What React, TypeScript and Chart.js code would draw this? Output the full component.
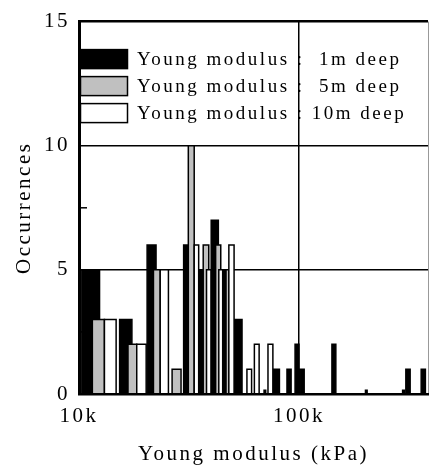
import React, { useEffect, useRef } from 'react';
import { Chart, registerables } from 'chart.js';

Chart.register(...registerables);

// ---- data (Young modulus bins in kPa x 1000, occurrence counts) ----
const seriesLabels = [
  'Young modulus :  1m deep',
  'Young modulus :  5m deep',
  'Young modulus : 10m deep',
];

// 1 m deep (black)
const blackLo = [10.3, 15.3, 20.4, 29.9, 34.7, 39.9, 44.8, 50.7, 69.4, 76.1, 88.2, 96.0, 101.3, 141.2, 200.6, 295.9, 306.1, 359.4];
const blackHi = [12.4, 17.4, 22.4, 31.8, 36.9, 43.0, 47.2, 55.1, 70.6, 81.5, 92.1, 100.0, 105.6, 147.1, 204.1, 301.1, 320.2, 375.6];
const blackN = [5, 3, 6, 6, 5, 7, 5, 3, 0.15, 1, 1, 2, 1, 2, 0.15, 0.15, 1, 1];

// 5 m deep (grey)
const greyLo = [11.5, 16.7, 21.8, 26.5, 31.4, 36.7, 41.8, 46.6];
const greyHi = [13.05, 18.3, 23.4, 29.1, 33.4, 38.9, 44.1, 48.0];
const greyN = [3, 2, 5, 1, 10, 6, 6, 5];

// 10 m deep (white)
const whiteLo = [13.05, 18.3, 23.4, 33.4, 38.0, 43.2, 48.0, 58.0, 62.7, 72.3];
const whiteHi = [14.75, 20.2, 25.5, 35.0, 39.8, 45.0, 50.7, 60.9, 65.9, 76.1];
const whiteN = [3, 2, 5, 6, 5, 5, 6, 1, 2, 2];

const xMin = 10;
const xMax = 386;
const xTickValues = [10, 100, xMax];
const yTickStep = 2.5;
const yLabelledTicks = [0, 5, 10, 15];
const yMinorTicks = [2.5, 7.5, 12.5];

const FONT = '"Liberation Serif", "Times New Roman", "DejaVu Serif", serif';

function histPath(lo: number[], hi: number[], n: number[]) {
  const pts: { x: number; y: number }[] = [];
  for (let i = 0; i < lo.length; i++) {
    pts.push({ x: lo[i], y: 0 });
    pts.push({ x: lo[i], y: n[i] });
    pts.push({ x: hi[i], y: n[i] });
    pts.push({ x: hi[i], y: 0 });
  }
  return pts;
}

const spacingPlugin = {
  id: 'spacing',
  beforeDraw(chart: any) {
    chart.ctx.letterSpacing = '2.5px';
  },
};

const minorTickPlugin = {
  id: 'minorTicks',
  afterDraw(chart: any) {
    const { ctx, chartArea, scales } = chart;
    ctx.save();
    ctx.strokeStyle = '#000';
    ctx.lineWidth = 1.5;
    yMinorTicks.forEach((v) => {
      const py = scales.y.getPixelForValue(v);
      ctx.beginPath();
      ctx.moveTo(chartArea.left, py);
      ctx.lineTo(chartArea.left + 8, py);
      ctx.stroke();
    });
    ctx.restore();
  },
};

const legendPlugin = {
  id: 'boxLegend',
  afterDraw(chart: any) {
    const { ctx, chartArea } = chart;
    ctx.save();
    ctx.font = '19px ' + FONT;
    ctx.letterSpacing = '2.5px';
    ctx.textBaseline = 'middle';
    ctx.textAlign = 'left';
    chart.data.datasets.forEach((ds: any, i: number) => {
      const top = chartArea.top + 28 + i * 27;
      const left = chartArea.left + 1.5;
      ctx.fillStyle = ds.backgroundColor;
      ctx.fillRect(left, top, 47, 19);
      ctx.lineWidth = 1.5;
      ctx.strokeStyle = ds.borderColor;
      ctx.strokeRect(left, top, 47, 19);
      ctx.fillStyle = '#000';
      ctx.fillText(ds.label, chartArea.left + 58, top + 10);
    });
    ctx.restore();
  },
};

export default function App() {
  const ref = useRef<HTMLCanvasElement | null>(null);

  useEffect(() => {
    document.body.style.margin = '0';
    const canvas = ref.current;
    if (!canvas) return;
    const common = {
      showLine: true,
      fill: 'origin',
      borderWidth: 1.5,
      borderJoinStyle: 'miter',
      pointRadius: 0,
      pointHoverRadius: 0,
      tension: 0,
    };
    const chart = new Chart(canvas, {
      type: 'line',
      data: {
        datasets: [
          { ...common, label: seriesLabels[0], data: histPath(blackLo, blackHi, blackN), backgroundColor: '#000000', borderColor: '#000000', order: 3 },
          { ...common, label: seriesLabels[1], data: histPath(greyLo, greyHi, greyN), backgroundColor: '#c0c0c0', borderColor: '#000000', order: 2 },
          { ...common, label: seriesLabels[2], data: histPath(whiteLo, whiteHi, whiteN), backgroundColor: '#ffffff', borderColor: '#000000', order: 1 },
        ] as any,
      },
      options: {
        animation: false,
        responsive: false,
        devicePixelRatio: 1,
        events: [],
        layout: { padding: { top: 16, right: 2, bottom: 0, left: 0 } },
        plugins: {
          legend: { display: false },
          tooltip: { enabled: false },
        },
        scales: {
          x: {
            type: 'logarithmic',
            min: xMin,
            max: xMax,
            afterBuildTicks: (scale: any) => {
              scale.ticks = xTickValues.map((v) => ({ value: v }));
            },
            afterFit: (scale: any) => {
              scale.height = 78;
            },
            ticks: {
              autoSkip: false,
              maxRotation: 0,
              padding: 10,
              color: '#000',
              font: { family: FONT, size: 21 },
              callback: (value: any) => (value === 10 || value === 100 ? value + 'k' : ''),
            },
            grid: {
              drawTicks: false,
              color: (c: any) => (c.tick && c.tick.value === 100 ? '#000' : c.tick && c.tick.value === xMax ? '#999' : 'rgba(0,0,0,0)'),
              lineWidth: (c: any) => (c.tick && c.tick.value === 100 ? 1.5 : 1),
            },
            border: { color: '#000', width: 2.5, z: 1 },
            title: {
              display: true,
              text: 'Young modulus (kPa)',
              color: '#000',
              font: { family: FONT, size: 21 },
              padding: { top: 0, bottom: 5 },
            },
          },
          y: {
            type: 'linear',
            min: 0,
            max: 15,
            afterFit: (scale: any) => {
              scale.width = 79;
            },
            ticks: {
              stepSize: yTickStep,
              autoSkip: false,
              padding: 9,
              color: '#000',
              font: { family: FONT, size: 21 },
              callback: (value: any) => (yLabelledTicks.includes(value) ? String(value) : ''),
            },
            grid: {
              drawTicks: false,
              color: (c: any) => (c.tick && [5, 10, 15].includes(c.tick.value) ? '#000' : 'rgba(0,0,0,0)'),
              lineWidth: (c: any) => (c.tick && c.tick.value === 15 ? 2.5 : 1.5),
            },
            border: { color: '#000', width: 3, z: 1 },
            title: {
              display: true,
              text: 'Occurrences',
              color: '#000',
              font: { family: FONT, size: 21 },
              padding: { top: 12, bottom: 0 },
            },
          },
        },
      } as any,
      plugins: [spacingPlugin, minorTickPlugin, legendPlugin],
    });
    return () => chart.destroy();
  }, []);

  return (
    <div style={{ width: 438, height: 472 }}>
      <canvas ref={ref} width={438} height={472} />
    </div>
  );
}
